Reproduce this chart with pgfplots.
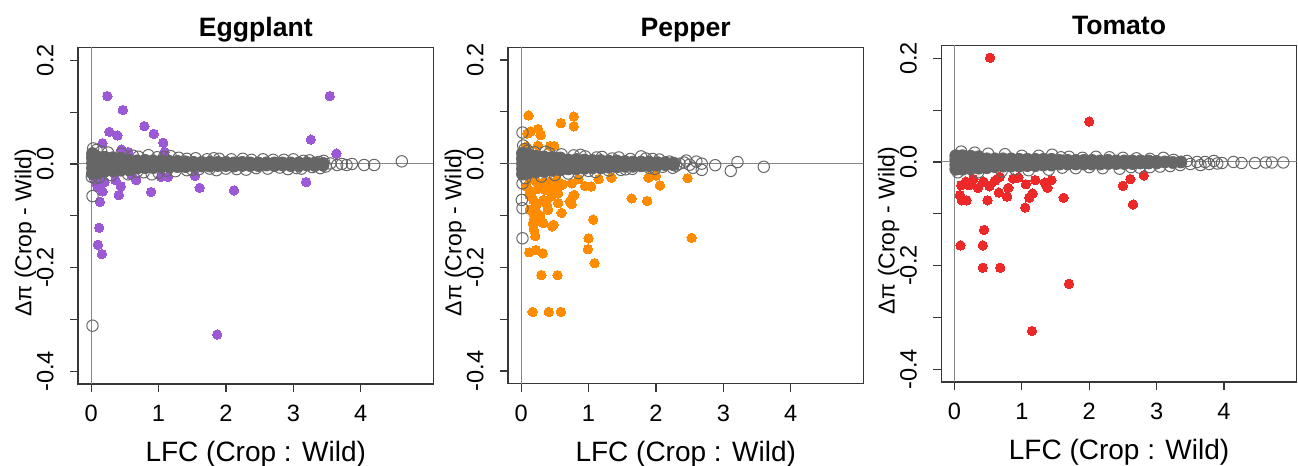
\documentclass[border=0pt]{standalone}
\usepackage{fontspec}
\setmainfont{Liberation Sans}
\usepackage{pgfplots}
\usepackage{pgfplotstable}
\usetikzlibrary{calc}
\pgfplotsset{compat=1.18}
\definecolor{ptgray}{RGB}{102,102,102}
\definecolor{ppurple}{RGB}{155,89,214}
\definecolor{porange}{RGB}{255,140,0}
\definecolor{pred}{RGB}{236,40,40}
\definecolor{axgray}{RGB}{55,55,55}
\definecolor{zgray}{RGB}{135,135,135}

% ---------------- Eggplant ----------------
\pgfplotstableread{
x y
0.24 0.131
0.47 0.104
0.79 0.073
0.93 0.058
0.27 0.062
0.39 0.055
0.17 0.040
1.07 0.041
3.54 0.131
3.26 0.047
3.64 0.020
0.45 0.028
1.09 0.023
0.55 0.023
0.13 0.013
3.19 -0.035
1.61 -0.046
2.12 -0.051
0.89 -0.054
0.41 -0.060
0.17 -0.053
0.13 -0.073
0.12 -0.123
0.10 -0.156
0.16 -0.174
1.87 -0.329
0.36 -0.031
0.44 -0.043
0.67 -0.031
0.08 -0.038
0.06 -0.028
0.20 -0.035
0.60 -0.022
1.54 -0.023
1.04 -0.025
1.14 -0.025
0.10 -0.045
0.15 -0.031
}\eggcol
\pgfplotstableread{
x y
0.02 -0.018
0.02 -0.008
0.02 0.002
0.02 0.012
0.02 0.020
0.10 -0.017
0.10 -0.007
0.10 0.003
0.10 0.013
0.20 -0.014
0.20 -0.005
0.20 0.005
0.20 0.013
0.32 -0.013
0.32 -0.004
0.32 0.005
0.32 0.012
0.44 -0.012
0.44 -0.003
0.44 0.006
0.44 0.011
0.56 -0.011
0.56 -0.002
0.56 0.007
0.68 -0.008
0.68 0.000
0.68 0.006
0.80 -0.007
0.80 0.000
0.80 0.007
0.92 -0.007
0.92 0.001
0.92 0.006
1.04 -0.006
1.04 0.000
1.04 0.006
1.16 -0.006
1.16 0.001
1.16 0.005
1.28 -0.005
1.28 0.000
1.28 0.005
1.40 -0.005
1.40 0.001
1.40 0.004
1.52 -0.004
1.52 0.003
1.64 -0.004
1.64 0.003
1.76 -0.004
1.76 0.003
1.88 -0.003
1.88 0.003
2.00 -0.003
2.00 0.003
2.12 -0.004
2.12 0.002
2.24 -0.003
2.24 0.003
2.36 -0.003
2.36 0.002
2.48 -0.003
2.48 0.002
2.60 -0.002
2.60 0.002
2.72 -0.003
2.72 0.002
2.84 -0.002
2.84 0.002
2.96 -0.003
2.96 0.002
3.08 -0.003
3.08 0.002
3.20 -0.002
3.20 0.002
3.32 -0.003
3.32 0.002
3.44 -0.002
3.44 0.001
}\eggcore
\pgfplotstableread{
x y
0.03 0.030
0.08 0.027
0.15 0.024
0.01 -0.025
0.06 -0.028
0.12 -0.026
0.02 -0.062
0.02 -0.312
0.25 0.022
0.45 0.020
0.62 0.016
0.85 0.017
1.08 0.013
1.30 0.012
1.55 0.011
1.90 0.010
2.25 0.010
2.70 0.008
0.30 -0.022
0.55 -0.020
0.78 -0.016
0.90 -0.020
1.00 -0.017
1.25 -0.014
1.42 -0.012
1.60 -0.010
2.00 -0.009
2.45 -0.008
2.80 -0.007
3.05 -0.008
3.15 0.006
3.28 -0.006
3.38 0.004
3.48 -0.005
3.55 0.001
3.65 -0.002
3.72 0.000
3.79 -0.002
3.87 0.000
4.05 -0.002
4.20 -0.002
4.61 0.005
1.42 0.010
1.72 0.009
1.82 0.011
2.08 0.009
2.38 0.008
2.55 0.009
2.86 0.008
3.00 0.009
3.24 0.007
3.45 0.006
1.50 -0.011
1.76 -0.009
1.86 -0.012
2.16 -0.010
2.30 -0.011
2.62 -0.009
2.92 -0.010
3.12 -0.009
3.40 -0.008
0.70 0.014
0.98 0.013
1.18 0.015
0.68 -0.015
1.12 -0.013
}\eggring

% ---------------- Pepper ----------------
\pgfplotstableread{
x y
0.11 0.093
0.78 0.091
0.59 0.078
0.78 0.072
0.25 0.067
0.09 0.058
0.29 0.055
0.14 0.062
0.25 0.035
0.43 0.034
0.49 0.034
0.08 0.033
2.47 -0.028
2.06 -0.042
1.89 -0.027
2.00 -0.023
1.64 -0.067
1.87 -0.072
1.34 -0.027
1.07 -0.108
1.00 -0.144
0.99 -0.165
1.09 -0.192
2.53 -0.143
0.46 -0.121
0.32 -0.114
0.18 -0.113
0.19 -0.128
0.21 -0.140
0.12 -0.171
0.22 -0.167
0.32 -0.173
0.30 -0.215
0.54 -0.215
0.17 -0.286
0.41 -0.286
0.59 -0.286
0.30 -0.428
0.74 -0.428
0.95 -0.428
0.13 -0.031
0.08 -0.044
0.16 -0.054
0.23 -0.035
0.28 -0.044
0.36 -0.051
0.43 -0.035
0.50 -0.041
0.53 -0.054
0.45 -0.063
0.33 -0.070
0.23 -0.079
0.13 -0.089
0.18 -0.096
0.38 -0.079
0.55 -0.076
0.60 -0.095
0.75 -0.078
0.79 -0.060
0.75 -0.038
0.95 -0.043
1.04 -0.044
0.53 -0.031
0.18 -0.070
0.40 -0.089
0.20 -0.089
0.18 -0.118
0.33 -0.115
0.48 -0.118
0.72 -0.073
0.77 -0.062
0.25 -0.049
0.45 -0.047
0.55 -0.057
0.35 -0.035
0.20 -0.105
0.28 -0.100
0.12 -0.060
0.62 -0.040
0.85 -0.030
1.15 -0.030
}\pepcol
\pgfplotstableread{
x y
0.02 -0.020
0.02 -0.010
0.02 0.000
0.02 0.010
0.02 0.020
0.10 -0.018
0.10 -0.008
0.10 0.002
0.10 0.012
0.10 0.019
0.22 -0.016
0.22 -0.006
0.22 0.004
0.22 0.014
0.34 -0.015
0.34 -0.005
0.34 0.005
0.34 0.013
0.46 -0.013
0.46 -0.004
0.46 0.005
0.46 0.012
0.58 -0.012
0.58 -0.003
0.58 0.006
0.58 0.011
0.70 -0.010
0.70 -0.002
0.70 0.007
0.82 -0.010
0.82 -0.001
0.82 0.008
0.94 -0.009
0.94 0.000
0.94 0.007
1.06 -0.008
1.06 0.000
1.06 0.006
1.18 -0.008
1.18 0.000
1.18 0.006
1.30 -0.007
1.30 0.000
1.30 0.005
1.42 -0.006
1.42 0.001
1.42 0.005
1.54 -0.005
1.54 0.004
1.66 -0.005
1.66 0.003
1.78 -0.004
1.78 0.003
1.90 -0.004
1.90 0.003
2.02 -0.003
2.02 0.002
2.14 -0.002
2.14 0.002
2.26 -0.002
2.26 0.001
}\pepcore
\pgfplotstableread{
x y
0.02 0.060
0.03 0.035
0.05 0.028
0.10 0.025
0.02 -0.038
0.01 -0.070
0.02 -0.086
0.02 -0.144
0.06 -0.028
0.20 0.022
0.42 0.020
0.60 0.018
0.78 0.016
0.95 0.014
1.12 0.012
1.35 0.010
1.62 0.009
1.78 0.014
0.30 -0.025
0.50 -0.022
0.70 -0.019
0.85 -0.018
1.10 -0.016
1.30 -0.013
1.65 -0.010
1.90 -0.008
2.05 0.008
2.10 -0.006
2.20 0.004
2.25 -0.008
2.30 -0.004
2.35 0.000
2.42 0.002
2.45 0.006
2.50 -0.002
2.55 -0.008
2.60 0.004
2.68 0.000
2.68 -0.012
2.88 -0.003
3.11 -0.014
3.21 0.003
3.60 -0.006
1.00 -0.014
1.20 0.013
1.45 0.012
1.48 -0.012
1.55 -0.011
1.85 0.010
1.95 0.009
1.98 -0.010
0.36 0.023
0.88 0.017
}\pepring

% ---------------- Tomato ----------------
\pgfplotstableread{
x y
0.53 0.201
2.00 0.078
2.81 -0.026
2.61 -0.033
2.50 -0.046
2.65 -0.082
1.62 -0.069
1.16 -0.061
1.11 -0.069
1.05 -0.088
1.06 -0.043
1.20 -0.035
1.38 -0.050
1.44 -0.035
1.34 -0.040
0.80 -0.050
0.78 -0.067
0.66 -0.059
0.52 -0.047
0.49 -0.074
0.35 -0.050
0.11 -0.074
0.18 -0.074
0.10 -0.045
0.17 -0.038
0.28 -0.033
0.43 -0.038
0.67 -0.029
0.87 -0.032
0.08 -0.064
0.44 -0.131
0.42 -0.161
0.09 -0.161
0.42 -0.204
0.68 -0.204
1.70 -0.235
1.15 -0.326
0.22 -0.045
0.60 -0.036
0.95 -0.030
}\tomcol
\pgfplotstableread{
x y
0.02 -0.014
0.02 -0.005
0.02 0.004
0.02 0.012
0.12 -0.014
0.12 -0.005
0.12 0.004
0.12 0.012
0.24 -0.013
0.24 -0.004
0.24 0.005
0.24 0.011
0.36 -0.012
0.36 -0.003
0.36 0.005
0.36 0.010
0.48 -0.011
0.48 -0.002
0.48 0.006
0.60 -0.009
0.60 -0.001
0.60 0.006
0.72 -0.008
0.72 0.000
0.72 0.006
0.84 -0.008
0.84 0.000
0.84 0.006
0.96 -0.008
0.96 0.000
0.96 0.005
1.08 -0.007
1.08 0.000
1.08 0.005
1.20 -0.007
1.20 0.000
1.20 0.005
1.32 -0.006
1.32 0.001
1.32 0.005
1.44 -0.006
1.44 0.000
1.44 0.005
1.56 -0.004
1.56 0.003
1.68 -0.004
1.68 0.003
1.80 -0.004
1.80 0.003
1.92 -0.004
1.92 0.003
2.04 -0.004
2.04 0.003
2.16 -0.004
2.16 0.002
2.28 -0.003
2.28 0.003
2.40 -0.003
2.40 0.002
2.52 -0.003
2.52 0.002
2.64 -0.003
2.64 0.002
2.76 -0.002
2.76 0.002
2.88 -0.002
2.88 0.002
3.00 -0.002
3.00 0.001
3.12 0.000
3.24 -0.001
3.36 0.000
}\tomcore
\pgfplotstableread{
x y
0.10 0.020
0.30 0.018
0.50 0.016
0.75 0.015
1.00 0.012
1.25 0.012
1.45 0.014
1.70 0.010
2.10 0.010
2.50 0.008
2.90 0.006
3.10 0.008
3.25 0.004
0.05 -0.020
0.35 -0.020
0.70 -0.018
1.10 -0.016
1.40 -0.015
1.80 -0.012
2.20 -0.012
2.45 -0.013
2.90 -0.010
3.20 -0.008
3.35 -0.006
3.45 0.002
3.50 -0.004
3.60 0.000
3.65 -0.006
3.72 0.000
3.78 -0.004
3.85 0.002
3.90 -0.003
3.97 -0.002
4.14 0.000
4.26 -0.002
4.46 -0.002
4.62 -0.001
4.71 -0.001
4.88 -0.001
1.58 0.009
1.90 0.008
2.30 0.009
2.70 0.007
1.60 -0.011
2.00 -0.010
2.62 -0.010
2.75 -0.011
3.05 -0.009
0.90 -0.014
}\tomring

\pgfplotsset{
  panel/.style={
    scale only axis, width=177.75pt, height=168.2pt,
    anchor=south west,
    xmin=-0.195, xmax=5.08, ymin=-0.4245, ymax=0.2245,
    axis line style={axgray, line width=0.6pt},
    xtick={0,1,2,3,4}, xticklabels={},
    ytick={-0.4,-0.3,-0.2,-0.1,0,0.1,0.2},
    yticklabels={},
    xtick pos=bottom, ytick pos=left,
    tick align=outside, major tick length=4pt,
    tick style={axgray, line width=0.6pt},
    every axis title/.style={at={(rel axis cs:0.5,1)}, anchor=base, yshift=5.3pt, font=\bfseries\fontsize{13.3}{15}\selectfont},
    clip=true,
  },
  zline/.style={zgray, line width=0.5pt, forget plot},
  colpts/.style={only marks, mark=*, mark size=2.35pt, mark options={fill=#1, draw=#1, line width=0pt}},
  corepts/.style={only marks, mark=*, mark size=3pt, mark options={fill=ptgray, draw=ptgray, line width=0.4pt}},
  ringpts/.style={only marks, mark=o, mark size=2.85pt, mark options={draw=ptgray, line width=0.5pt}},
}
\tikzset{
  ylab/.style={rotate=90, anchor=base, font=\fontsize{11.5}{13}\selectfont},
  xlab/.style={anchor=base, font=\fontsize{14}{15}\selectfont},
  ytl/.style={rotate=90, anchor=base, inner sep=0pt, font=\fontsize{11.8}{13}\selectfont},
  xtl/.style={anchor=base, inner sep=0pt, font=\fontsize{11.8}{13}\selectfont},
}
% tick labels and axis titles placed along the named axis box
\newcommand\panellabels[1]{%
  \foreach \f/\t in {0.9622/0.2, 0.6541/0.0, 0.3459/-0.2, 0.0378/-0.4}
    \node[ytl] at ($(#1.south west)!\f!(#1.north west)+(-12.35pt,0)$) {\t};
  \foreach \f/\t in {0.03697/0, 0.2265/1, 0.4161/2, 0.6057/3, 0.7953/4}
    \node[xtl] at ($(#1.south west)!\f!(#1.south east)+(0,-18.85pt)$) {\t};
  \node[ylab] at ($(#1.south west)!0.45!(#1.north west)+(-23.3pt,0)$) {Δπ (Crop - Wild)};
  \node[xlab] at ($(#1.south west)!0.5!(#1.south east)+(0,-38.8pt)$) {LFC (Crop : Wild)};
}

\begin{document}
\begin{tikzpicture}
\useasboundingbox (0,0) rectangle (649pt,233pt);

\begin{axis}[panel, name=ax1, at={(39pt,41pt)}, title={Eggplant}]
\addplot[zline] coordinates {(0,-0.5) (0,0.3)};
\addplot[zline] coordinates {(-0.3,0) (5.2,0)};
\addplot[colpts=ppurple] table {\eggcol};
\addplot[corepts] table {\eggcore};
\addplot[ringpts] table {\eggring};
\end{axis}
\panellabels{ax1}

\begin{axis}[panel, name=ax2, at={(254pt,41.15pt)}, title={Pepper}]
\addplot[zline] coordinates {(0,-0.5) (0,0.3)};
\addplot[zline] coordinates {(-0.3,0) (5.2,0)};
\addplot[colpts=porange] table {\pepcol};
\addplot[corepts] table {\pepcore};
\addplot[ringpts] table {\pepring};
\end{axis}
\panellabels{ax2}

\begin{axis}[panel, name=ax3, at={(470.65pt,42pt)}, title={Tomato}]
\addplot[zline] coordinates {(0,-0.5) (0,0.3)};
\addplot[zline] coordinates {(-0.3,0) (5.2,0)};
\addplot[colpts=pred] table {\tomcol};
\addplot[corepts] table {\tomcore};
\addplot[ringpts] table {\tomring};
\end{axis}
\panellabels{ax3}
\end{tikzpicture}
\end{document}
